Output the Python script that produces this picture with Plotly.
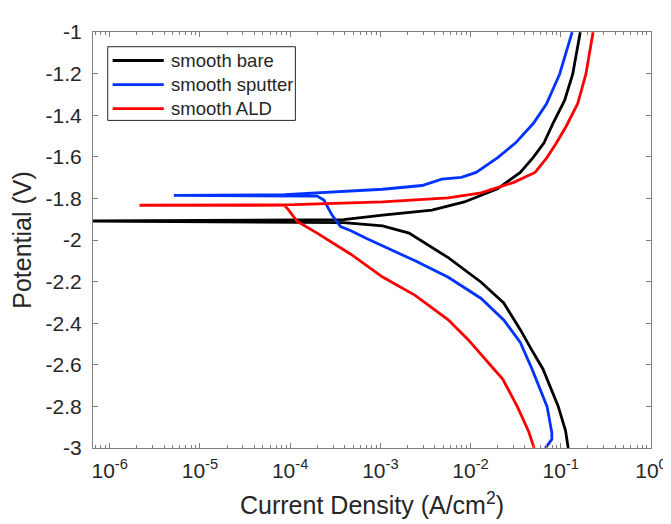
import plotly.graph_objects as go

# ---- data (current density A/cm^2, potential V) ----
bare_i = [0.1208, 0.1130, 0.0935, 0.0705, 0.0634, 0.0493, 0.0356, 0.0233, 0.0131,
          0.00566, 0.00243, 0.00208, 0.00106, 3.91e-4, 5.0e-7, 3.91e-4, 1.06e-3,
          3.73e-3, 8.53e-3, 0.0199, 0.0356, 0.0493, 0.0650, 0.0820, 0.1102, 0.1355, 0.1644]
bare_v = [-3.000, -2.917, -2.799, -2.667, -2.620, -2.540, -2.431, -2.303, -2.203,
          -2.085, -1.982, -1.967, -1.932, -1.916, -1.909, -1.902, -1.880,
          -1.856, -1.817, -1.754, -1.675, -1.604, -1.534, -1.439, -1.329, -1.203, -1.001]

sputter_i = [0.0671, 0.0705, 0.0796, 0.0796, 0.0705, 0.0530, 0.0480, 0.0356, 0.0233,
             0.0131, 0.00566, 0.00243, 0.00106, 6.95e-4, 4.66e-4, 3.62e-4, 2.89e-4,
             2.37e-4, 1.99e-4, 5.14e-6, 8.67e-5, 1.99e-4, 4.66e-4, 1.06e-3, 2.90e-3,
             4.80e-3, 7.91e-3, 0.01153, 0.0200, 0.0314, 0.0498, 0.0695, 0.0970, 0.1337]
sputter_v = [-3.000, -2.990, -2.958, -2.927, -2.801, -2.667, -2.620, -2.492, -2.384,
             -2.281, -2.179, -2.100, -2.030, -1.992, -1.954, -1.935, -1.878,
             -1.808, -1.789, -1.785, -1.782, -1.773, -1.764, -1.756, -1.738,
             -1.707, -1.699, -1.675, -1.604, -1.534, -1.439, -1.345, -1.203, -1.001]

ald_i = [0.0506, 0.0439, 0.0330, 0.0226, 0.0181, 0.01164, 0.00935, 0.00566, 0.00243,
         0.00106, 4.66e-4, 1.99e-4, 1.43e-4, 1.20e-4, 9.35e-5, 8.67e-5, 2.14e-6,
         1.11e-4, 1.06e-3, 5.66e-3, 0.0131, 0.0301, 0.0519, 0.0702, 0.0893, 0.1148,
         0.1538, 0.1897, 0.2280]
ald_v = [-3.000, -2.919, -2.801, -2.667, -2.620, -2.525, -2.478, -2.384, -2.266,
         -2.178, -2.067, -1.967, -1.930, -1.911, -1.849, -1.834, -1.833,
         -1.830, -1.817, -1.798, -1.773, -1.723, -1.675, -1.604, -1.534, -1.453,
         -1.345, -1.203, -1.001]

series_names = ["smooth bare", "smooth sputter", "smooth ALD"]
series_colors = ["#000000", "#0033ff", "#ff0000"]

x_tick_vals = [1e-6, 1e-5, 1e-4, 1e-3, 1e-2, 1e-1, 1e0]
x_tick_text = ["10<sup>-6</sup>", "10<sup>-5</sup>", "10<sup>-4</sup>", "10<sup>-3</sup>",
               "10<sup>-2</sup>", "10<sup>-1</sup>", "10<sup>0</sup>"]
y_tick_vals = [-3, -2.8, -2.6, -2.4, -2.2, -2, -1.8, -1.6, -1.4, -1.2, -1]
y_tick_text = ["-3", "-2.8", "-2.6", "-2.4", "-2.2", "-2", "-1.8", "-1.6", "-1.4", "-1.2", "-1"]

minor_vals = [m * 10.0 ** e for e in range(-7, 0) for m in range(2, 10)]

FONT = "Liberation Sans, Arial, sans-serif"
TXT = "#262626"
AX = "#808080"
LW = 2.8

fig = go.Figure()
for xs, ys, name, col in zip([bare_i, sputter_i, ald_i], [bare_v, sputter_v, ald_v],
                             series_names, series_colors):
    fig.add_trace(go.Scatter(x=xs, y=ys, mode="lines", name=name,
                             line=dict(color=col, width=LW), showlegend=False))

# ---- legend box drawn in paper coordinates (MATLAB style, long line samples) ----
leg_x0, leg_x1, leg_y0, leg_y1 = 0.0264, 0.3627, 0.7875, 0.9646
row_y = [0.9315, 0.8737, 0.8158]
shapes = [dict(type="rect", xref="paper", yref="paper", x0=leg_x0, x1=leg_x1,
               y0=leg_y0, y1=leg_y1, line=dict(color=TXT, width=1), fillcolor="white",
               layer="above")]
annotations = []
for name, col, ry in zip(series_names, series_colors, row_y):
    shapes.append(dict(type="line", xref="paper", yref="paper", x0=0.0352, x1=0.1268,
                       y0=ry, y1=ry, line=dict(color=col, width=LW), layer="above"))
    annotations.append(dict(xref="paper", yref="paper", x=0.1356, y=ry, text=name,
                            showarrow=False, xanchor="left", yanchor="middle",
                            font=dict(family=FONT, size=18.5, color=TXT)))

fig.update_layout(
    width=671, height=524,
    margin=dict(l=85, r=18, t=17, b=84),
    paper_bgcolor="white", plot_bgcolor="white",
    font=dict(family=FONT, color=TXT, size=21),
    showlegend=False,
    shapes=shapes, annotations=annotations,
)
fig.update_xaxes(
    type="log", range=[-6.185, 0],
    tickmode="array", tickvals=x_tick_vals, ticktext=x_tick_text,
    ticks="inside", ticklen=5, tickcolor=AX, tickwidth=1,
    minor=dict(tickmode="array", tickvals=minor_vals, ticks="inside", ticklen=3,
               tickcolor=AX, tickwidth=1, showgrid=False),
    showline=True, linecolor=AX, linewidth=1, mirror="allticks",
    showgrid=False, zeroline=False,
    tickfont=dict(family=FONT, size=21, color=TXT),
    ticklabelstandoff=4,
    title=dict(text="Current Density (A/cm<sup>2</sup>)",
               font=dict(family=FONT, size=25, color=TXT), standoff=15),
)
fig.update_yaxes(
    range=[-3, -1],
    tickmode="array", tickvals=y_tick_vals, ticktext=y_tick_text,
    ticks="inside", ticklen=5, tickcolor=AX, tickwidth=1,
    showline=True, linecolor=AX, linewidth=1, mirror="allticks",
    showgrid=False, zeroline=False,
    tickfont=dict(family=FONT, size=21, color=TXT),
    ticklabelstandoff=6,
    title=dict(text="Potential (V)", font=dict(family=FONT, size=25, color=TXT), standoff=6),
)

fig.write_html("out.html")
